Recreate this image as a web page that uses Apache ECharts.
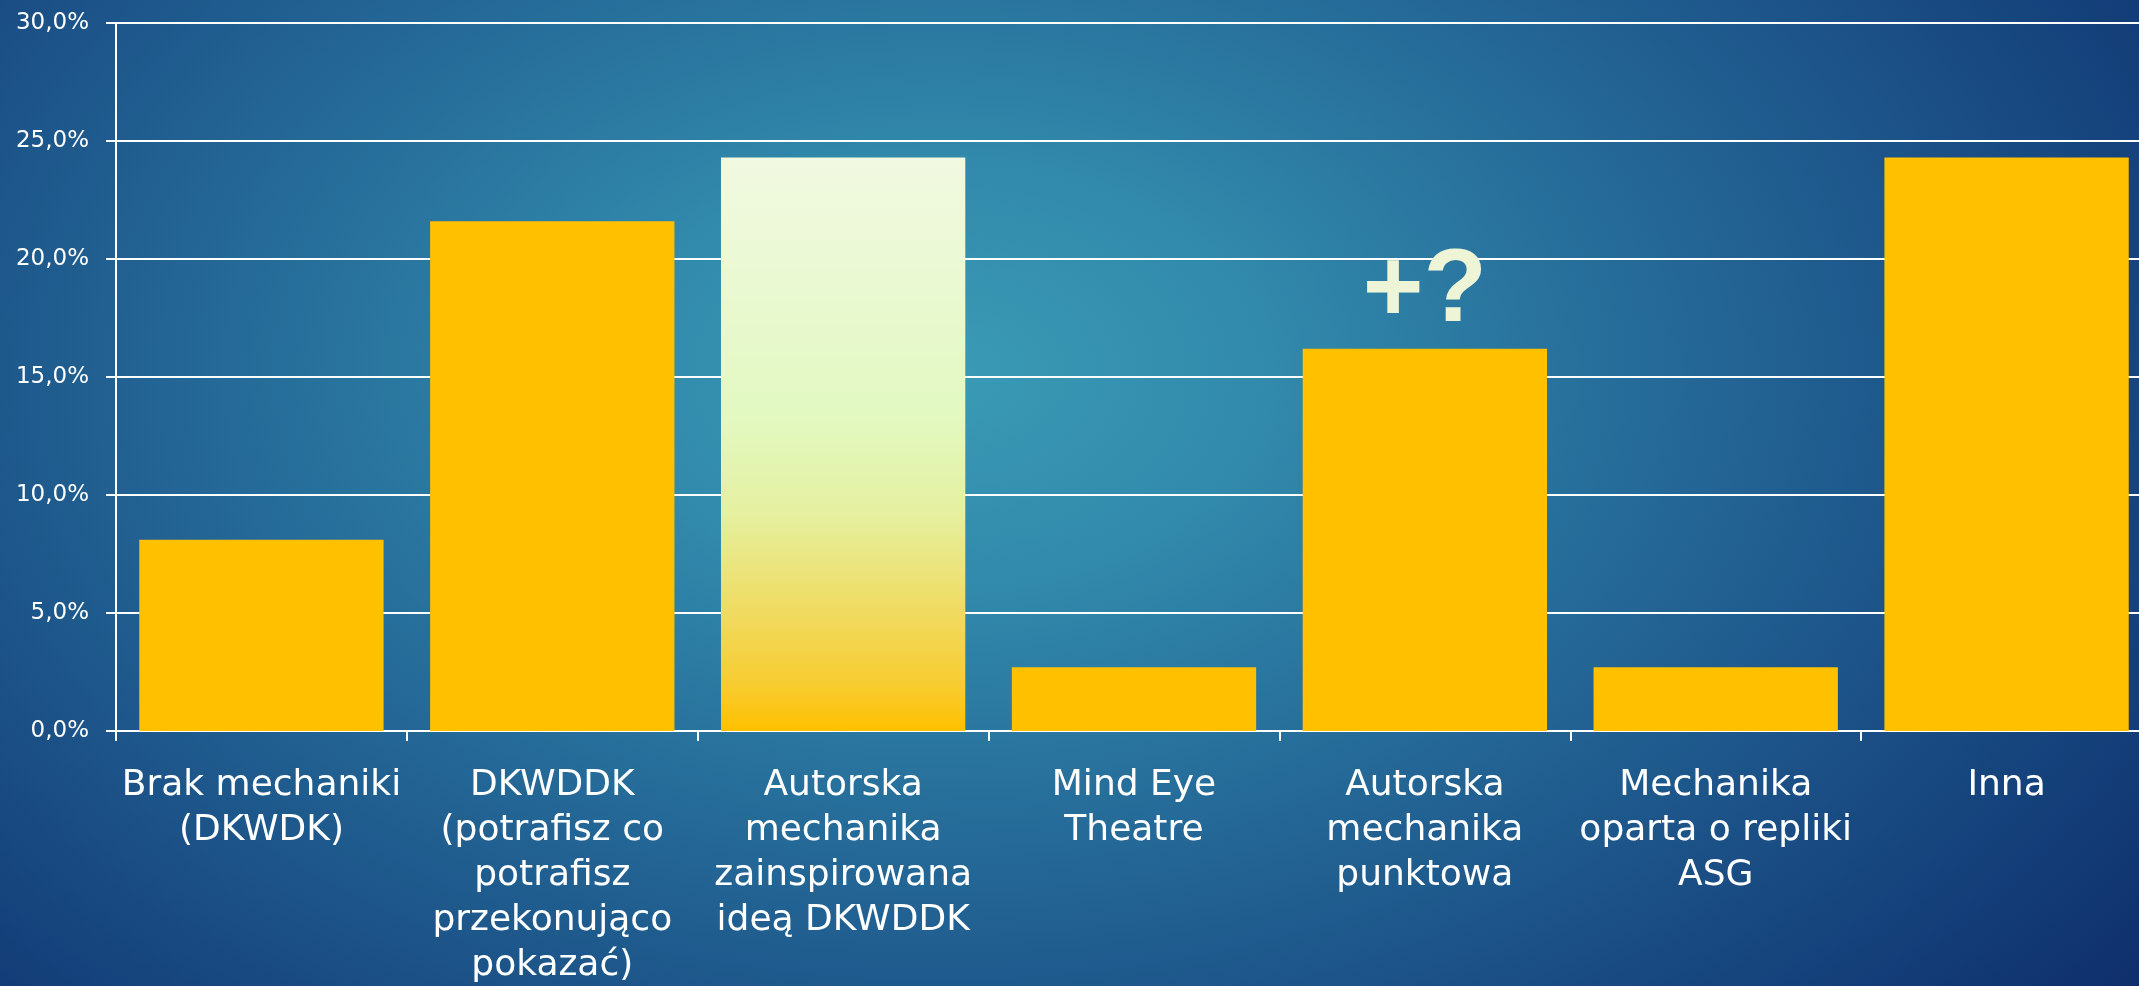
<!DOCTYPE html>
<html lang="pl">
<head>
<meta charset="utf-8">
<title>mechanika</title>
<script src="https://cdn.jsdelivr.net/npm/echarts@6/dist/echarts.min.js"></script>
<style>
  html, body { margin: 0; padding: 0; overflow: hidden; }
  #main {
    width: 2139px; height: 986px;
    background: radial-gradient(ellipse 70% 100% at 44% 38%, #3a9bb5 0%, #3189ab 22%, #266d9a 45%, #1c5388 68%, #14407a 85%, #0f306c 100%);
  }
</style>
</head>
<body>
<div id="main"></div>
<script>
// kategorie (z ręcznym łamaniem jak na slajdzie)
var categories = [
  'Brak mechaniki\n(DKWDK)',
  'DKWDDK\n(potrafisz co\npotrafisz\nprzekonująco\npokazać)',
  'Autorska\nmechanika\nzainspirowana\nideą DKWDDK',
  'Mind Eye\nTheatre',
  'Autorska\nmechanika\npunktowa',
  'Mechanika\noparta o repliki\nASG',
  'Inna'
];
// udział odpowiedzi w %
var values = [8.1, 21.6, 24.3, 2.7, 16.2, 2.7, 24.3];
var highlighted = 2;   // słupek z gradientem
var questioned = 4;    // słupek z dopiskiem "+?"
var questionText = '+?';

var labelFont = '"DejaVu Sans", Lato, sans-serif';

var seriesData = values.map(function (v, i) {
  var item = { value: v };
  if (i === highlighted) {
    item.itemStyle = {
      color: new echarts.graphic.LinearGradient(0, 0, 0, 1, [
        { offset: 0, color: '#f1f9e1' },
        { offset: 0.45, color: '#e2f9c1' },
        { offset: 0.62, color: '#e5f0a0' },
        { offset: 0.8, color: '#f0da5e' },
        { offset: 0.92, color: '#f7cc30' },
        { offset: 1, color: '#ffc000' }
      ])
    };
  }
  if (i === questioned) {
    item.label = {
      show: true,
      position: 'top',
      distance: 4,
      formatter: questionText,
      color: '#eef5d6',
      fontFamily: '"Liberation Sans", Arial, sans-serif',
      fontWeight: 'bold',
      fontSize: 104
    };
  }
  return item;
});

var chart = echarts.init(document.getElementById('main'));
chart.setOption({
  backgroundColor: 'transparent',
  animation: false,
  grid: { left: 116, width: 2036, top: 23, bottom: 255, outerBoundsMode: 'none' },
  xAxis: {
    type: 'category',
    data: categories,
    axisLine: { lineStyle: { color: '#ffffff', width: 2 } },
    axisTick: { show: true, length: 10, lineStyle: { color: '#ffffff', width: 2 } },
    axisLabel: {
      interval: 0,
      margin: 32,
      color: '#ffffff',
      fontFamily: labelFont,
      fontSize: 36,
      lineHeight: 45
    }
  },
  yAxis: {
    type: 'value',
    min: 0,
    max: 30,
    interval: 5,
    axisLine: { show: true, lineStyle: { color: '#ffffff', width: 2 } },
    axisTick: { show: true, length: 10, lineStyle: { color: '#ffffff', width: 2 } },
    splitLine: { lineStyle: { color: '#ffffff', width: 2 } },
    axisLabel: {
      margin: 27,
      color: '#ffffff',
      fontFamily: labelFont,
      fontSize: 23,
      formatter: function (v) { return v.toFixed(1).replace('.', ',') + '%'; }
    }
  },
  series: [{
    type: 'bar',
    data: seriesData,
    barCategoryGap: '16%',
    itemStyle: { color: '#ffc000' },
    label: { show: false }
  }]
});
</script>
</body>
</html>
